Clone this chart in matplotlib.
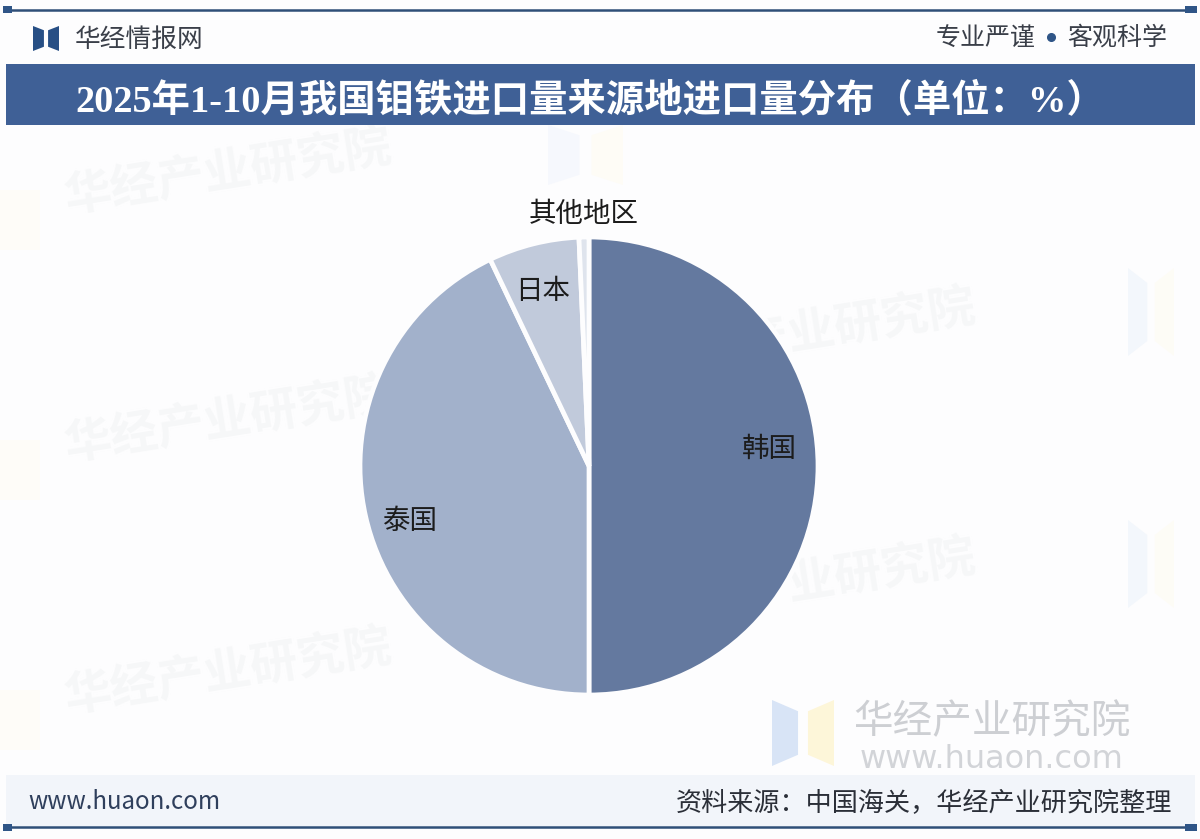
import matplotlib
matplotlib.use("Agg")
import matplotlib.pyplot as plt
from matplotlib.patches import Polygon, Rectangle
import numpy as np

# values
categories = ["韩国", "泰国", "日本", "其他地区"]
shares = [50.0, 42.9, 6.4, 0.7]

colors = ["#64799F", "#A2B1CB", "#C1CADB", "#DFE4ED"]
label_dist = [0.80, 0.82, 0.81, 1.12]
label_shift = [(-1, 17), (3, -14), (-2, -4), (0, -3)]

TITLE = "2025年1-10月我国钼铁进口量来源地进口量分布（单位：%）"
W, H = 1200, 839
CJK = ["Noto Sans CJK SC", "DejaVu Sans"]
SERIF = ["Liberation Serif", "Noto Sans CJK SC"]

plt.rcParams["font.family"] = CJK

fig = plt.figure(figsize=(W / 100, H / 100), dpi=100, facecolor="#FDFDFE")
ax = fig.add_axes([0, 0, 1, 1])


def put(x, y, s, size, color="#222222", ha="center", **kw):
    # y is measured from the top of the image
    return ax.text(x, H - y, s, fontsize=size, color=color, ha=ha, va="center", **kw)


def box(x0, y0, x1, y1, color, z=1):
    ax.add_patch(Rectangle((x0, H - y1), x1 - x0, y1 - y0, fc=color, ec="none", zorder=z))


def logo(x, y, w, h, c1, c2, z=1):
    left = [(x, H - y), (x + w * 0.42, H - y - h * 0.17), (x + w * 0.42, H - y - h * 0.83), (x, H - y - h)]
    right = [(x + w, H - y), (x + w * 0.58, H - y - h * 0.17), (x + w * 0.58, H - y - h * 0.83), (x + w, H - y - h)]
    ax.add_patch(Polygon(left, fc=c1, ec="none", zorder=z))
    ax.add_patch(Polygon(right, fc=c2, ec="none", zorder=z))


wedges, _ = ax.pie(shares, colors=colors, startangle=90, counterclock=False,
                   center=(589, H - 466), radius=229,
                   wedgeprops={"edgecolor": "#FDFDFE", "linewidth": 3.4, "zorder": 3})
ax.set_xlim(0, W)
ax.set_ylim(0, H)
ax.set_aspect("auto")
ax.axis("off")

for w, name, d, (dx, dy) in zip(wedges, categories, label_dist, label_shift):
    mid = np.deg2rad((w.theta1 + w.theta2) / 2)
    ax.text(589 + 227 * d * np.cos(mid) + dx, H - 466 + 227 * d * np.sin(mid) + dy, name,
            fontsize=19.8, color="#1C1C1C", ha="center", va="center", zorder=5)

# faint watermarks behind the pie
for x, y in [(228, 172), (228, 420), (228, 672), (812, 332), (812, 582)]:
    put(x, y, "华经产业研究院", 34, color="#F6F7F8", rotation=9, zorder=1, weight="bold")
for x, y in [(1128, 268), (1128, 520)]:
    logo(x, y, 46, 88, "#F3F7FC", "#FDFCF6")
for y in [190, 440, 690]:
    box(0, y, 40, y + 60, "#FEFCF8")
logo(548, 125, 75, 60, "#F6F8FD", "#FEFCF6")

# bottom right watermark
logo(772, 700, 62, 66, "#D8E4F6", "#FDF6D9", z=2)
put(992, 722, "华经产业研究院", 28.5, color="#CDCFD3", zorder=2)
put(992, 760, "www.huaon.com", 23, color="#D2D4D8", zorder=2, family=["DejaVu Sans"])

# header
ax.plot([6, 1194], [H - 9.5, H - 9.5], color="#2F4F78", lw=1.8, zorder=4)
box(3, 6, 12, 13, "#2F5587", 4)
box(1185, 6, 1197, 13, "#2F5587", 4)
logo(33, 26, 26, 25, "#274F85", "#274F85", z=4)
put(75, 40, "华经情报网", 18.5, color="#3A3F49", ha="left")
put(1036, 38, "专业严谨", 18, color="#3A3F49", ha="right")
put(1167, 38, "客观科学", 18, color="#3A3F49", ha="right")
ax.plot([1051], [H - 37], "o", ms=5.5, color="#2F5587", zorder=4)

# title band
box(6, 64, 1195, 125, "#3F6096", 4)
put(590, 101, TITLE, 27.6, color="#FFFFFF", weight="bold", family=SERIF, zorder=5)

# footer
box(6, 775, 1195, 826, "#F2F5FA", 2)
ax.plot([6, 1194], [H - 827, H - 827], color="#2F4F78", lw=1.8, zorder=4)
box(3, 824, 12, 831, "#2F5587", 4)
box(1185, 824, 1197, 831, "#2F5587", 4)
put(28, 802, "www.huaon.com", 17.3, color="#2F3F5C", ha="left", zorder=5)
put(1172, 804, "资料来源：中国海关，华经产业研究院整理", 18.8, color="#2B2F38", ha="right", zorder=5)

fig.savefig("out.png", dpi=100, facecolor=fig.get_facecolor())
